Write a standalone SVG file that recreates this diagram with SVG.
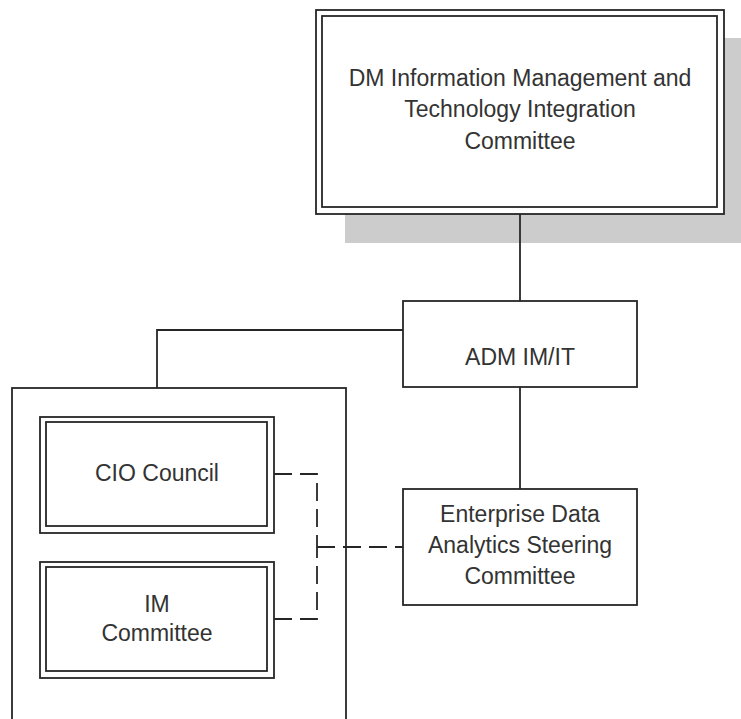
<svg xmlns="http://www.w3.org/2000/svg" width="741" height="719" viewBox="0 0 741 719">
<style>
.box{fill:#fff;stroke:#262626;stroke-width:1.8}
.frame{fill:none;stroke:#262626;stroke-width:1.8}
.ln{fill:none;stroke:#262626;stroke-width:1.8}
.dash{fill:none;stroke:#262626;stroke-width:1.8;stroke-dasharray:18 8}
.t{font-family:"Liberation Sans",Arial,sans-serif;font-size:23px;fill:#333;text-anchor:middle}
</style>
<rect width="741" height="719" fill="#fff"/>
<g id="dm-committee">
<rect x="345" y="38" width="420" height="205" fill="#cccccc"/>
<rect class="box" x="316" y="10" width="408" height="204"/>
<rect class="box" x="322" y="16" width="395" height="191"/>
<text class="t" x="520" y="86" font-size="25">DM Information Management and</text>
<text class="t" x="520" y="117" font-size="25">Technology Integration</text>
<text class="t" x="520" y="149" font-size="25">Committee</text>
</g>
<g id="adm">
<rect class="box" x="403" y="301" width="234" height="86"/>
<text class="t" x="520" y="365" font-size="25">ADM IM/IT</text>
</g>
<g id="container">
<rect class="frame" x="12" y="388" width="334" height="360"/>
</g>
<g id="cio">
<rect class="box" x="40" y="417" width="234" height="116"/>
<rect class="box" x="46" y="422" width="221" height="104"/>
<text class="t" x="157" y="481">CIO Council</text>
</g>
<g id="im">
<rect class="box" x="40" y="562" width="234" height="116"/>
<rect class="box" x="46" y="567" width="221" height="104"/>
<text class="t" x="157" y="612">IM</text>
<text class="t" x="157" y="641">Committee</text>
</g>
<g id="edasc">
<rect class="box" x="403" y="489" width="234" height="116"/>
<text class="t" x="520" y="522">Enterprise Data</text>
<text class="t" x="520" y="553">Analytics Steering</text>
<text class="t" x="520" y="584">Committee</text>
</g>
<g id="connectors">
<path class="ln" d="M520 214V301"/>
<path class="ln" d="M403 330H157V388"/>
<path class="ln" d="M520 387V489"/>
<path class="dash" d="M274 474H317V547"/>
<path class="dash" d="M274 619H317V547"/>
<path class="dash" d="M317 547H403"/>
</g>
</svg>
